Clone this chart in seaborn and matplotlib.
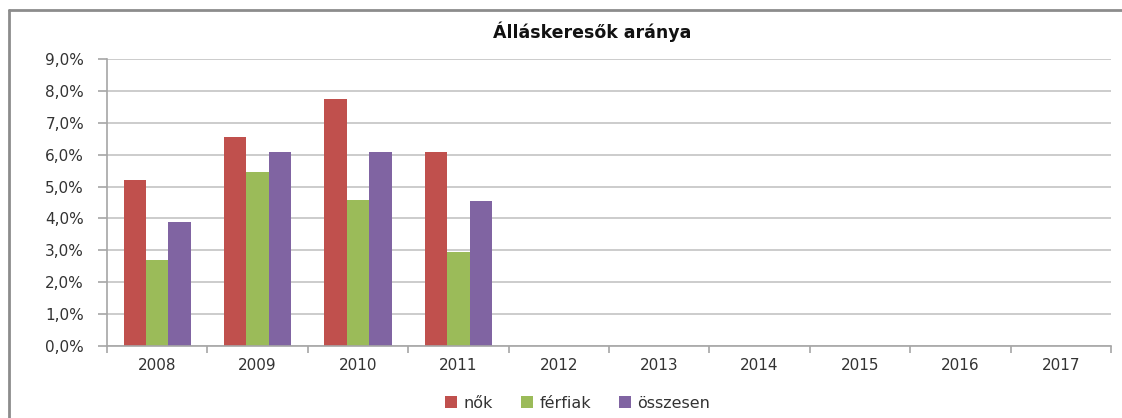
import matplotlib
matplotlib.use("Agg")
import matplotlib.pyplot as plt
import matplotlib.ticker as mticker
from matplotlib.lines import Line2D
import seaborn as sns
import pandas as pd
import numpy as np

years = ["2008", "2009", "2010", "2011", "2012", "2013", "2014", "2015", "2016", "2017"]
series = ["nők", "férfiak", "összesen"]
nok = [5.2, 6.55, 7.74, 6.08]
ferfiak = [2.7, 5.45, 4.58, 2.95]
osszesen = [3.9, 6.08, 6.08, 4.55]
colors = ["#C0504D", "#9BBB59", "#8064A2"]

rows = []
for name, vals in zip(series, [nok, ferfiak, osszesen]):
    for y, v in zip(years, vals):
        rows.append({"year": y, "series": name, "value": v})
df = pd.DataFrame(rows)

sns.set_theme(style="white")
plt.rcParams["font.family"] = ["DejaVu Sans"]

fig = plt.figure(figsize=(11.22, 4.18), dpi=100)
ax = fig.add_axes([107/1122, 1-346/418, (1111-107)/1122, (346-59)/418])

sns.barplot(data=df, x="year", y="value", hue="series", order=years,
            hue_order=series, palette=colors, width=0.67, saturation=1,
            ax=ax, legend=False, errorbar=None, linewidth=0)

ax.set_xlim(-0.5, len(years) - 0.5)
ax.set_ylim(0, 9)
ax.set_yticks(np.arange(0, 10, 1))
ax.yaxis.set_major_formatter(mticker.FuncFormatter(lambda v, p: f"{v:.1f}".replace(".", ",") + "%"))
ax.yaxis.grid(True, color="#C4C4C4", linewidth=1.2)
ax.set_axisbelow(True)
ax.set_xlabel("")
ax.set_ylabel("")
for s in ["top", "right"]:
    ax.spines[s].set_visible(False)
for s in ["left", "bottom"]:
    ax.spines[s].set_color("#A6A6A6")
    ax.spines[s].set_linewidth(1.2)

ax.tick_params(axis="y", left=True, length=6.5, color="#A6A6A6", width=1.2,
               labelsize=11, labelcolor="#333333", pad=10)
ax.tick_params(axis="x", which="major", length=0, labelsize=11, labelcolor="#333333", pad=9)
ax.set_xticks(np.arange(-0.5, len(years), 1), minor=True)
ax.tick_params(axis="x", which="minor", bottom=True, length=5, color="#A6A6A6", width=1.2)

fig.text(592/1122, 1-32/418, "Álláskeresők aránya", ha="center", va="center",
         fontsize=12.5, fontweight="bold", color="#111111")

handles = [Line2D([0], [0], marker="s", linestyle="", markersize=8,
                  markerfacecolor=c, markeredgewidth=0) for c in colors]
fig.legend(handles, series, loc="center", bbox_to_anchor=(576/1122, 1-403/418),
           ncol=3, frameon=False, fontsize=11.5, handletextpad=0.2, columnspacing=1.5,
           handlelength=1.2, labelcolor="#333333")

# outer frame
fig.add_artist(Line2D([8.5/1122, 8.5/1122], [0, 1-10/418], transform=fig.transFigure,
                      color="#8C8C8C", linewidth=2))
fig.add_artist(Line2D([8.5/1122, 1], [1-10/418, 1-10/418], transform=fig.transFigure,
                      color="#8C8C8C", linewidth=2))

fig.savefig("out.png", dpi=100)
